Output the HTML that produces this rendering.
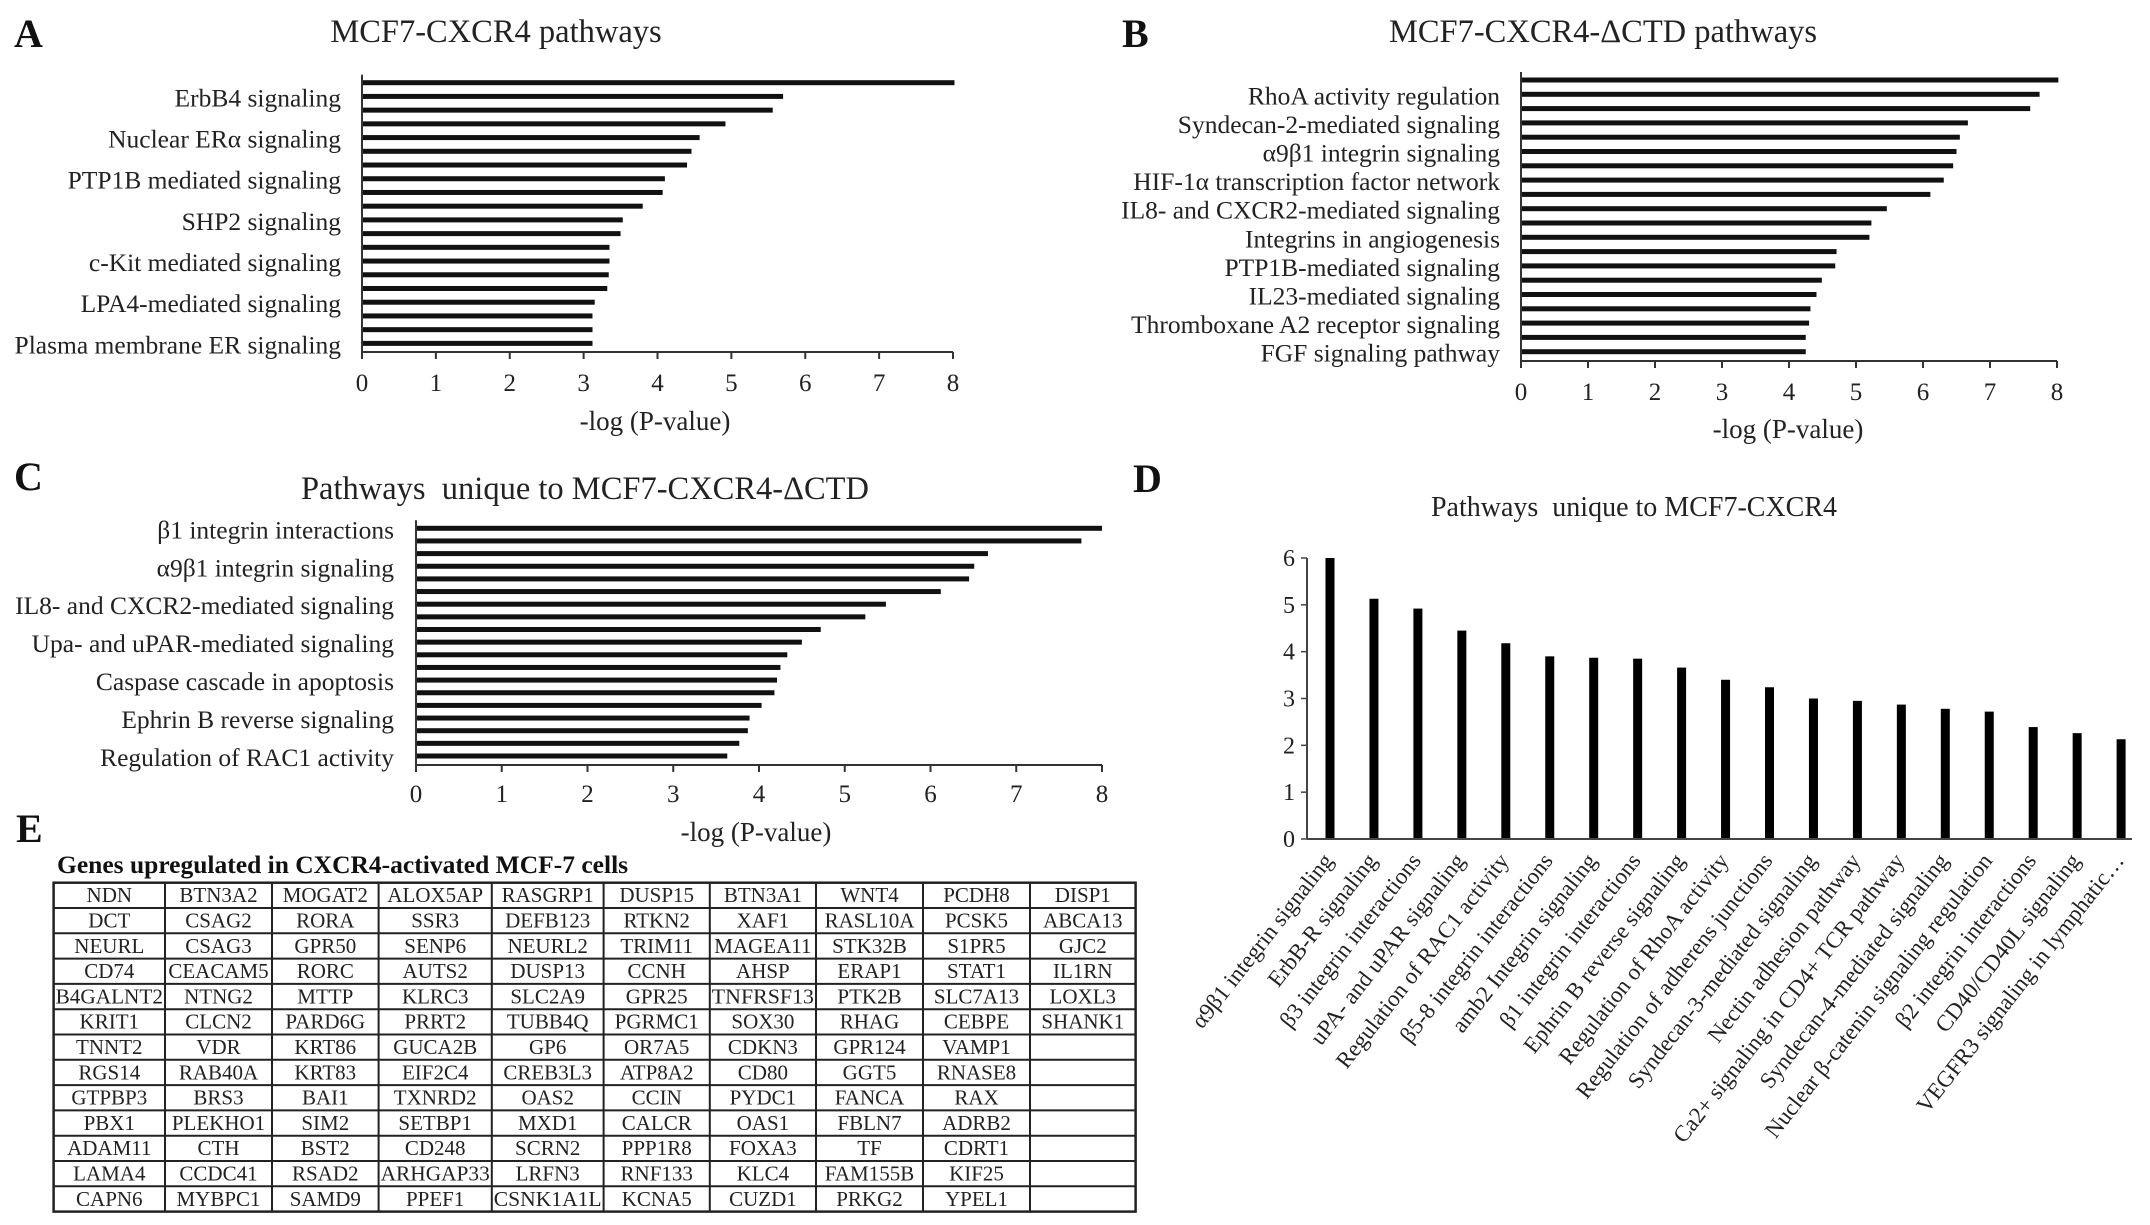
<!DOCTYPE html>
<html><head><meta charset="utf-8">
<style>
html,body{margin:0;padding:0;background:#fff;}
svg{display:block;font-family:"Liberation Serif","DejaVu Serif",serif;}
</style></head>
<body>
<svg id="fig" width="2150" height="1225" viewBox="0 0 2150 1225" xmlns="http://www.w3.org/2000/svg">
<rect width="2150" height="1225" fill="#fff"/>
<g font-weight="bold" font-size="40" fill="#111">
<text x="14" y="47">A</text>
<text x="1122" y="47">B</text>
<text x="14" y="490">C</text>
<text x="1133" y="492">D</text>
<text x="16" y="842">E</text>
</g>
<g font-size="32.5" fill="#222" text-anchor="middle">
<text x="496" y="42">MCF7-CXCR4 pathways</text>
<text x="1603" y="42">MCF7-CXCR4-ΔCTD pathways</text>
<text x="585" y="499" xml:space="preserve">Pathways  unique to MCF7-CXCR4-ΔCTD</text>
</g>
<text x="1634" y="516" font-size="28" fill="#222" text-anchor="middle" xml:space="preserve">Pathways  unique to MCF7-CXCR4</text>
<g id="charts"></g>
<g id="table"></g>
</svg>
<script>
// ---- Chart A data ----
const aCategories = ["", "ErbB4 signaling", "", "", "Nuclear ERα signaling", "", "", "PTP1B mediated signaling", "", "", "SHP2 signaling", "", "", "c-Kit mediated signaling", "", "", "LPA4-mediated signaling", "", "", "Plasma membrane ER signaling"];
const aValues = [8.02, 5.7, 5.56, 4.92, 4.57, 4.46, 4.4, 4.1, 4.07, 3.8, 3.53, 3.5, 3.35, 3.35, 3.34, 3.32, 3.15, 3.12, 3.12, 3.12];
// ---- Chart B data ----
const bCategories = ["", "RhoA activity regulation", "", "Syndecan-2-mediated signaling", "", "α9β1 integrin signaling", "", "HIF-1α transcription factor network", "", "IL8- and CXCR2-mediated signaling", "", "Integrins in angiogenesis", "", "PTP1B-mediated signaling", "", "IL23-mediated signaling", "", "Thromboxane A2 receptor signaling", "", "FGF signaling pathway"];
const bValues = [8.02, 7.74, 7.6, 6.67, 6.55, 6.5, 6.45, 6.31, 6.11, 5.46, 5.23, 5.2, 4.71, 4.69, 4.49, 4.41, 4.32, 4.3, 4.25, 4.25];
// ---- Chart C data ----
const cCategories = ["β1 integrin interactions", "", "", "α9β1 integrin signaling", "", "", "IL8- and CXCR2-mediated signaling", "", "", "Upa- and uPAR-mediated signaling", "", "", "Caspase cascade in apoptosis", "", "", "Ephrin B reverse signaling", "", "", "Regulation of RAC1 activity"];
const cValues = [8.0, 7.76, 6.67, 6.51, 6.45, 6.12, 5.48, 5.24, 4.72, 4.5, 4.33, 4.25, 4.21, 4.18, 4.03, 3.89, 3.87, 3.77, 3.63];
const hTicks = [0, 1, 2, 3, 4, 5, 6, 7, 8];
// ---- Chart D data ----
const dCategories = ["α9β1 integrin signaling", "ErbB-R signaling", "β3 integrin interactions", "uPA- and uPAR signaling", "Regulation of RAC1 activity", "β5-8 integrin interactions", "amb2 Integrin signaling", "β1 integrin  interactions", "Ephrin B reverse signaling", "Regulation of RhoA activity", "Regulation of adherens junctions", "Syndecan-3-mediated signaling", "Nectin adhesion pathway", "Ca2+ signaling in CD4+ TCR pathway", "Syndecan-4-mediated signaling", "Nuclear β-catenin signaling regulation", "β2 integrin  interactions", "CD40/CD40L signaling", "VEGFR3 signaling in lymphatic…"];
const dValues = [6.0, 5.13, 4.92, 4.45, 4.18, 3.9, 3.87, 3.85, 3.66, 3.4, 3.24, 3.0, 2.95, 2.87, 2.78, 2.72, 2.39, 2.26, 2.13];
const dTicks = [0, 1, 2, 3, 4, 5, 6];
// ---- Table data ----
const tableTitle = "Genes upregulated in CXCR4-activated MCF-7 cells";
const tableRows = [
["NDN","BTN3A2","MOGAT2","ALOX5AP","RASGRP1","DUSP15","BTN3A1","WNT4","PCDH8","DISP1"],
["DCT","CSAG2","RORA","SSR3","DEFB123","RTKN2","XAF1","RASL10A","PCSK5","ABCA13"],
["NEURL","CSAG3","GPR50","SENP6","NEURL2","TRIM11","MAGEA11","STK32B","S1PR5","GJC2"],
["CD74","CEACAM5","RORC","AUTS2","DUSP13","CCNH","AHSP","ERAP1","STAT1","IL1RN"],
["B4GALNT2","NTNG2","MTTP","KLRC3","SLC2A9","GPR25","TNFRSF13","PTK2B","SLC7A13","LOXL3"],
["KRIT1","CLCN2","PARD6G","PRRT2","TUBB4Q","PGRMC1","SOX30","RHAG","CEBPE","SHANK1"],
["TNNT2","VDR","KRT86","GUCA2B","GP6","OR7A5","CDKN3","GPR124","VAMP1",""],
["RGS14","RAB40A","KRT83","EIF2C4","CREB3L3","ATP8A2","CD80","GGT5","RNASE8",""],
["GTPBP3","BRS3","BAI1","TXNRD2","OAS2","CCIN","PYDC1","FANCA","RAX",""],
["PBX1","PLEKHO1","SIM2","SETBP1","MXD1","CALCR","OAS1","FBLN7","ADRB2",""],
["ADAM11","CTH","BST2","CD248","SCRN2","PPP1R8","FOXA3","TF","CDRT1",""],
["LAMA4","CCDC41","RSAD2","ARHGAP33","LRFN3","RNF133","KLC4","FAM155B","KIF25",""],
["CAPN6","MYBPC1","SAMD9","PPEF1","CSNK1A1L","KCNA5","CUZD1","PRKG2","YPEL1",""]
];

const NS = "http://www.w3.org/2000/svg";
function mk(tag, attrs, parent) {
  const e = document.createElementNS(NS, tag);
  for (const k in attrs) e.setAttribute(k, attrs[k]);
  parent.appendChild(e);
  return e;
}
const root = document.getElementById("charts");

function hbar(id, cats, vals, cfg) {
  const g = mk("g", {}, root);
  
  
  const x = v => cfg.x0 + (cfg.x1 - cfg.x0) * v / 8;
  const y = i => cfg.top + i * cfg.step;
  cats.forEach((c, i) => {
    const b = mk("rect", {x: x(0), y: y(i) - 2.5, width: x(vals[i]) - x(0), height: 5, fill: "#111"}, g);
    
    
    if (c) {
      const t = mk("text", {x: cfg.lr, y: y(i) + 10, "font-size": 25.5, fill: "#222", "text-anchor": "end"}, g);
      t.textContent = c;
      
      
    }
  });
  const ya = mk("line", {x1: x(0), x2: x(0), y1: y(0) - 8, y2: cfg.axis, stroke: "#333", "stroke-width": 2}, g);
  
  
  const xa = mk("line", {x1: x(0), x2: x(8), y1: cfg.axis, y2: cfg.axis, stroke: "#333", "stroke-width": 2}, g);
  
  
  hTicks.forEach(v => {
    mk("line", {x1: x(v), x2: x(v), y1: cfg.axis, y2: cfg.axis + 7, stroke: "#333", "stroke-width": 2}, g);
    const t = mk("text", {x: x(v), y: cfg.tick, "font-size": 25, fill: "#222", "text-anchor": "middle"}, g);
    t.textContent = v;
    
    
  });
  const at = mk("text", {x: cfg.atx, y: cfg.aty, "font-size": 27, fill: "#222", "text-anchor": "middle"}, g);
  at.setAttribute("xml:space", "preserve");
  at.textContent = "-log  (P-value)";
  
  
}
hbar("a", aCategories, aValues, {x0: 362, x1: 953, top: 82.7, step: 13.72, axis: 352, lr: 341, tick: 391, atx: 655, aty: 430});
hbar("b", bCategories, bValues, {x0: 1521, x1: 2057, top: 80, step: 14.3, axis: 361, lr: 1500, tick: 400, atx: 1788, aty: 438});
hbar("c", cCategories, cValues, {x0: 416, x1: 1102, top: 528.3, step: 12.65, axis: 765, lr: 394, tick: 802, atx: 756, aty: 841});

// Chart D vertical bars
(function(){
  const g = mk("g", {}, root);
  
  
  const ax = 1307, y0 = 839, y6 = 558;
  const yv = v => y0 - (y0 - y6) * v / 6;
  const xb = i => 1330 + i * 43.95;
  dTicks.forEach(v => {
    mk("line", {x1: ax - 6, x2: ax, y1: yv(v), y2: yv(v), stroke: "#444", "stroke-width": 1.5}, g);
    const t = mk("text", {x: ax - 12, y: yv(v) + 8, "font-size": 24, fill: "#222", "text-anchor": "end"}, g);
    t.textContent = v;
    
    
  });
  const ya = mk("line", {x1: ax, x2: ax, y1: yv(6), y2: y0, stroke: "#444", "stroke-width": 2}, g);
  
  
  dCategories.forEach((c, i) => {
    const b = mk("rect", {x: xb(i) - 4.5, y: yv(dValues[i]), width: 9, height: y0 - yv(dValues[i]), fill: "#000"}, g);
    
    
    const t = mk("text", {x: 0, y: 0, "font-size": 23, fill: "#222", "text-anchor": "end",
      transform: "translate(" + (xb(i) + 4) + "," + (y0 + 22) + ") rotate(-52)"}, g);
    t.setAttribute("xml:space", "preserve");
    t.textContent = c;
    
    
  });
  const xa = mk("line", {x1: ax, x2: 2132, y1: y0, y2: y0, stroke: "#444", "stroke-width": 2}, g);
  
  
})();

// Table E
(function(){
  const g = document.getElementById("table");
  
  
  const cols = [53.6, 165, 272, 378.6, 491.8, 603.6, 709.8, 816, 923, 1030, 1135.6];
  const top = 882.7, rh = 25.3;
  const h = mk("text", {x: 57, y: 873, "font-size": 25.5, "font-weight": "bold", fill: "#111"}, g);
  h.textContent = tableTitle;
  
  
  mk("rect", {x: cols[0], y: top, width: cols[10] - cols[0], height: rh * tableRows.length, fill: "none", stroke: "#222", "stroke-width": 2.5}, g);
  for (let r = 1; r < tableRows.length; r++) mk("line", {x1: cols[0], x2: cols[10], y1: top + r * rh, y2: top + r * rh, stroke: "#222", "stroke-width": 2}, g);
  for (let c = 1; c < 10; c++) mk("line", {x1: cols[c], x2: cols[c], y1: top, y2: top + rh * tableRows.length, stroke: "#222", "stroke-width": 2}, g);
  tableRows.forEach((row, r) => row.forEach((v, c) => {
    if (!v) return;
    const w = cols[c + 1] - cols[c];
    const t = mk("text", {x: (cols[c] + cols[c + 1]) / 2, y: top + r * rh + 19.5, "font-size": 21, fill: "#222", "text-anchor": "middle"}, g);
    if (v.length >= 8) { t.setAttribute("textLength", w - 4); t.setAttribute("lengthAdjust", "spacingAndGlyphs"); }
    t.textContent = v;
    
    
  }));
})();
</script>
</body></html>
